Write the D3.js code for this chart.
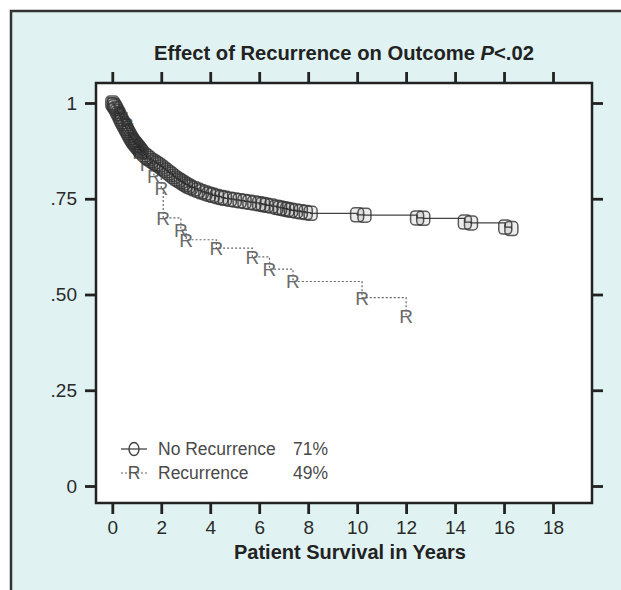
<!DOCTYPE html>
<html><head><meta charset="utf-8">
<script src="https://cdn.jsdelivr.net/npm/d3@7"></script>
<style>body{margin:0;background:#fff}svg{display:block;font-family:"Liberation Sans",Arial,sans-serif}</style>
</head><body><svg id="c" width="621" height="590"></svg>
<script>
// ---- data ----
const xTicks = [0,2,4,6,8,10,12,14,16,18];
const yTicks = [0,0.25,0.5,0.75,1];
const yTickLabels = ["0",".25",".50",".75","1"];
const seriesNames = ["No Recurrence","Recurrence"];
const seriesPct = ["71%","49%"];
// No recurrence: step points (years, survival)
const noRecT = [0,0.05,0.1,0.15,0.2,0.25,0.3,0.35,0.4,0.45,0.5,0.55,0.6,0.65,0.7,0.75,0.8,0.85,0.9,0.95,1.0,1.05,1.1,1.15,1.2,1.3,1.4,1.5,1.6,1.7,1.8,1.9,2.0,2.1,2.2,2.3,2.4,2.5,2.6,2.7,2.8,2.9,3.0,3.1,3.2,3.35,3.5,3.65,3.8,3.95,4.1,4.27,4.45,4.6,4.8,5.0,5.2,5.4,5.6,5.8,6.0,6.15,6.3,6.5,6.7,6.85,7.0,7.15,7.3,7.5,7.7,7.9,8.1,10.0,10.3,12.45,12.7,14.4,14.65,16.05,16.3];
const noRecS = [1.0,0.995,0.99,0.985,0.978,0.972,0.965,0.958,0.952,0.946,0.94,0.934,0.928,0.922,0.916,0.91,0.905,0.90,0.896,0.892,0.888,0.884,0.88,0.876,0.872,0.865,0.86,0.855,0.85,0.846,0.842,0.838,0.833,0.828,0.823,0.818,0.813,0.808,0.803,0.799,0.795,0.791,0.787,0.783,0.78,0.776,0.772,0.768,0.765,0.762,0.759,0.756,0.753,0.751,0.749,0.747,0.745,0.743,0.741,0.739,0.737,0.735,0.733,0.731,0.728,0.726,0.724,0.722,0.72,0.718,0.716,0.714,0.712,0.708,0.707,0.70,0.699,0.689,0.687,0.676,0.672];
// Recurrence: step points
const recT = [0,0.3,0.6,0.85,1.1,1.4,1.7,2.0,2.08,2.8,3.02,4.25,5.72,6.42,7.38,10.2,12.0];
const recS = [1.0,0.975,0.945,0.905,0.872,0.842,0.81,0.778,0.70,0.668,0.643,0.621,0.598,0.566,0.534,0.492,0.443];

// ---- drawing ----
const svg = d3.select("#c");
const ink = "#222";
const PL = 96, PT = 83, PR = 592, PB = 503;
const x = d3.scaleLinear().domain([0,18]).range([112.3,553]);
const y = d3.scaleLinear().domain([0,1]).range([486,103]);

svg.append("rect").attr("x",11).attr("y",11).attr("width",720).attr("height",700)
  .attr("fill","#e0f2f2").attr("stroke","#333").attr("stroke-width",2.5);
svg.append("rect").attr("x",PL).attr("y",PT).attr("width",PR-PL).attr("height",PB-PT)
  .attr("fill","#fff").attr("stroke",ink).attr("stroke-width",2.5);

function styleAxis(g){
  g.select(".domain").remove();
  g.selectAll(".tick line").attr("stroke",ink).attr("stroke-width",2.8);
  g.selectAll(".tick text").attr("fill","#2a2a2a").style("font-size","19px").style("font-family","'Liberation Sans',Arial,sans-serif");
}
svg.append("g").attr("transform",`translate(0,${PB})`)
  .call(d3.axisBottom(x).tickValues(xTicks).tickSize(11).tickPadding(7).tickFormat(d3.format("d"))).call(styleAxis);
svg.append("g").attr("transform",`translate(0,${PT})`)
  .call(d3.axisTop(x).tickValues(xTicks).tickSize(11).tickFormat("")).call(styleAxis);
svg.append("g").attr("transform",`translate(${PL},0)`)
  .call(d3.axisLeft(y).tickValues(yTicks).tickSize(11).tickPadding(8).tickFormat((d,i)=>yTickLabels[i])).call(styleAxis);
svg.append("g").attr("transform",`translate(${PR},0)`)
  .call(d3.axisRight(y).tickValues(yTicks).tickSize(11).tickFormat("")).call(styleAxis);

// title
const t = svg.append("text").attr("x",344).attr("y",60).attr("text-anchor","middle")
  .attr("fill",ink).style("font-size","20.2px").style("font-weight","bold");
t.append("tspan").text("Effect of Recurrence on Outcome ");
t.append("tspan").style("font-style","italic").text("P");
t.append("tspan").text("<.02");
svg.append("text").attr("x",350).attr("y",559).attr("text-anchor","middle")
  .attr("fill",ink).style("font-size","20px").style("font-weight","bold").text("Patient Survival in Years");

// curves
const noRec = noRecT.map((d,i)=>({t:d,s:noRecS[i]}));
const rec = recT.map((d,i)=>({t:d,s:recS[i]}));
const stepLine = d3.line().x(d=>x(d.t)).y(d=>y(d.s)).curve(d3.curveStepAfter);

svg.append("path").datum(rec).attr("d",stepLine).attr("fill","none")
  .attr("stroke","#666").attr("stroke-width",1.2).attr("stroke-dasharray","2,2");
svg.append("path").datum(noRec).attr("d",stepLine).attr("fill","none")
  .attr("stroke","#444").attr("stroke-width",1.3);

svg.append("g").selectAll("text").data(rec).join("text")
  .attr("x",d=>x(d.t)).attr("y",d=>y(d.s)+7).attr("text-anchor","middle")
  .attr("fill","#6a6a6a").style("font-size","19px").text("R");

svg.append("g").selectAll("rect").data(noRec).join("rect")
  .attr("x",d=>x(d.t)-6.5).attr("y",d=>y(d.s)-7).attr("width",13).attr("height",14)
  .attr("rx",4).attr("fill","#000").attr("fill-opacity",0.07)
  .attr("stroke","#333").attr("stroke-width",1.5).attr("stroke-opacity",0.8);

// legend
const lg = svg.append("g");
lg.append("line").attr("x1",121).attr("x2",147).attr("y1",449).attr("y2",449).attr("stroke","#444").attr("stroke-width",1.3);
lg.append("ellipse").attr("cx",134).attr("cy",449).attr("rx",5).attr("ry",6.5).attr("fill","none").attr("stroke","#444").attr("stroke-width",1.4);
lg.append("line").attr("x1",121).attr("x2",147).attr("y1",473).attr("y2",473).attr("stroke","#666").attr("stroke-width",1.2).attr("stroke-dasharray","2,2");
lg.append("text").attr("x",134).attr("y",479).attr("text-anchor","middle").attr("fill","#555").style("font-size","17.5px").text("R");
[0,1].forEach(i=>{
  lg.append("text").attr("x",158).attr("y",455+i*24).attr("fill","#4a4a4a").style("font-size","17.5px").text(seriesNames[i]);
  lg.append("text").attr("x",293).attr("y",455+i*24).attr("fill","#4a4a4a").style("font-size","17.5px").text(seriesPct[i]);
});
</script></body></html>
